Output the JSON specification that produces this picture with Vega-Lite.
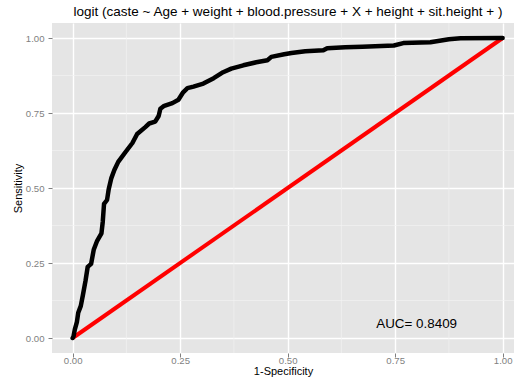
{
  "$schema": "https://vega.github.io/schema/vega-lite/v6.json",
  "autosize": {"type": "none"},
  "width": 462,
  "height": 330,
  "padding": {"left": 52, "top": 23, "right": 0, "bottom": 28},
  "background": "white",
  "config": {
    "view": {"fill": "#E5E5E5", "stroke": null},
    "font": "Liberation Sans",
    "axis": {
      "grid": true,
      "gridColor": "#FFFFFF",
      "gridWidth": 1.4,
      "domain": false,
      "tickColor": "#7F7F7F",
      "tickSize": 4,
      "tickWidth": 1,
      "labelColor": "#7F7F7F",
      "labelFontSize": 9.6,
      "labelFont": "Liberation Sans",
      "titleFont": "Liberation Sans",
      "titleFontWeight": "normal",
      "titleFontSize": 11,
      "titleColor": "#000000"
    }
  },
  "title": {
    "text": "logit (caste ~ Age + weight + blood.pressure + X + height + sit.height + )",
    "anchor": "middle",
    "fontSize": 13.5,
    "fontWeight": "normal",
    "font": "Liberation Sans",
    "color": "#000000",
    "offset": 4,
    "dx": 5
  },
  "datasets": {
    "roc": [
      {"fpr": 0, "tpr": 0},
      {"fpr": 0.002, "tpr": 0.005},
      {"fpr": 0.005, "tpr": 0.028},
      {"fpr": 0.010, "tpr": 0.054},
      {"fpr": 0.013, "tpr": 0.084},
      {"fpr": 0.019, "tpr": 0.107},
      {"fpr": 0.024, "tpr": 0.144},
      {"fpr": 0.030, "tpr": 0.191},
      {"fpr": 0.035, "tpr": 0.237},
      {"fpr": 0.043, "tpr": 0.247},
      {"fpr": 0.049, "tpr": 0.294},
      {"fpr": 0.057, "tpr": 0.324},
      {"fpr": 0.067, "tpr": 0.349},
      {"fpr": 0.070, "tpr": 0.387},
      {"fpr": 0.073, "tpr": 0.447},
      {"fpr": 0.080, "tpr": 0.460},
      {"fpr": 0.084, "tpr": 0.497},
      {"fpr": 0.090, "tpr": 0.533},
      {"fpr": 0.097, "tpr": 0.560},
      {"fpr": 0.106, "tpr": 0.587},
      {"fpr": 0.123, "tpr": 0.620},
      {"fpr": 0.139, "tpr": 0.650},
      {"fpr": 0.150, "tpr": 0.680},
      {"fpr": 0.169, "tpr": 0.703},
      {"fpr": 0.178, "tpr": 0.715},
      {"fpr": 0.192, "tpr": 0.721},
      {"fpr": 0.200, "tpr": 0.740},
      {"fpr": 0.204, "tpr": 0.764},
      {"fpr": 0.213, "tpr": 0.774},
      {"fpr": 0.232, "tpr": 0.783},
      {"fpr": 0.246, "tpr": 0.794},
      {"fpr": 0.257, "tpr": 0.819},
      {"fpr": 0.267, "tpr": 0.833},
      {"fpr": 0.281, "tpr": 0.838},
      {"fpr": 0.304, "tpr": 0.848},
      {"fpr": 0.328, "tpr": 0.866},
      {"fpr": 0.350, "tpr": 0.886},
      {"fpr": 0.369, "tpr": 0.898},
      {"fpr": 0.397, "tpr": 0.909},
      {"fpr": 0.427, "tpr": 0.919},
      {"fpr": 0.453, "tpr": 0.926},
      {"fpr": 0.462, "tpr": 0.937},
      {"fpr": 0.492, "tpr": 0.946},
      {"fpr": 0.509, "tpr": 0.950},
      {"fpr": 0.541, "tpr": 0.956},
      {"fpr": 0.583, "tpr": 0.959},
      {"fpr": 0.592, "tpr": 0.966},
      {"fpr": 0.634, "tpr": 0.969},
      {"fpr": 0.674, "tpr": 0.971},
      {"fpr": 0.747, "tpr": 0.975},
      {"fpr": 0.769, "tpr": 0.983},
      {"fpr": 0.832, "tpr": 0.986},
      {"fpr": 0.875, "tpr": 0.996},
      {"fpr": 0.902, "tpr": 0.999},
      {"fpr": 1, "tpr": 1}
    ],
    "diag": [
      {"fpr": 0, "tpr": 0},
      {"fpr": 1, "tpr": 1}
    ],
    "minor": [
      {"v": 0.125},
      {"v": 0.375},
      {"v": 0.625},
      {"v": 0.875}
    ],
    "label": [
      {"x": 0.80, "y": 0.047, "text": "AUC= 0.8409"}
    ]
  },
  "layer": [
    {
      "data": {"name": "minor"},
      "mark": {"type": "rule", "color": "#F2F2F2", "strokeWidth": 0.7},
      "encoding": {
        "x": {"field": "v", "type": "quantitative", "scale": {"domain": [-0.048, 1.0264], "nice": false, "zero": false}, "axis": {"title": "1-Specificity", "values": [0, 0.25, 0.5, 0.75, 1], "format": ".2f", "labelPadding": -2, "titlePadding": 1}}
      }
    },
    {
      "data": {"name": "minor"},
      "mark": {"type": "rule", "color": "#F2F2F2", "strokeWidth": 0.7},
      "encoding": {
        "y": {"field": "v", "type": "quantitative", "scale": {"domain": [-0.05, 1.05], "nice": false, "zero": false}, "axis": {"title": "Sensitivity", "values": [0, 0.25, 0.5, 0.75, 1], "format": ".2f", "labelPadding": 4, "titlePadding": 2}}
      }
    },
    {
      "data": {"name": "diag"},
      "mark": {"type": "line", "color": "#FF0000", "strokeWidth": 4},
      "encoding": {
        "x": {"field": "fpr", "type": "quantitative"},
        "y": {"field": "tpr", "type": "quantitative"}
      }
    },
    {
      "data": {"name": "roc"},
      "mark": {"type": "line", "color": "#000000", "strokeWidth": 4.5, "strokeJoin": "round", "strokeCap": "round"},
      "encoding": {
        "x": {"field": "fpr", "type": "quantitative"},
        "y": {"field": "tpr", "type": "quantitative"},
        "order": {"field": "fpr", "type": "quantitative"}
      }
    },
    {
      "data": {"name": "label"},
      "mark": {"type": "text", "fontSize": 13.4, "color": "#000000", "align": "center", "baseline": "middle", "font": "Liberation Sans"},
      "encoding": {
        "x": {"field": "x", "type": "quantitative"},
        "y": {"field": "y", "type": "quantitative"},
        "text": {"field": "text"}
      }
    }
  ]
}
